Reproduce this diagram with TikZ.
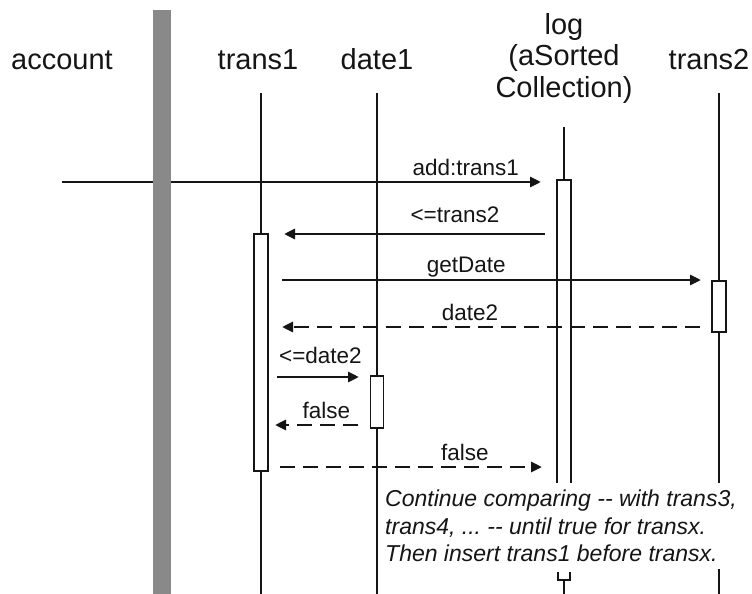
\documentclass[tikz,border=0pt]{standalone}
\usepackage{fontspec}
\setmainfont{Liberation Sans}
\usetikzlibrary{arrows.meta}
\definecolor{barGray}{HTML}{898989}
\definecolor{inkBlack}{HTML}{151515}

\tikzset{
  objname/.style={font=\fontsize{29}{31.5}\selectfont, inner sep=0pt, align=center, text=inkBlack},
  lifeline/.style={draw=inkBlack, line width=2.2pt},
  activation/.style={draw=inkBlack, fill=white, line width=1.9pt, inner sep=0pt, anchor=north},
  call/.style={draw=inkBlack, line width=2.9pt, -{Triangle[length=11pt,width=10pt]}},
  answer/.style={call, dash pattern=on 15pt off 8pt},
  msglabel/.style={font=\fontsize{22.5}{27}\selectfont, inner sep=0pt, anchor=base, yshift=7pt, text=inkBlack},
  remark/.style={font=\fontsize{23}{27.5}\selectfont\itshape\frenchspacing, fill=white, inner xsep=2pt, inner ysep=7pt,
                 align=left, anchor=north west, text=inkBlack}
}

\begin{document}
\begin{tikzpicture}[x=1pt, y=-1pt]
  \useasboundingbox (0,0) rectangle (752,594);

  % objects
  \node[objname, anchor=base] (account) at (62,70) {account};
  \node[objname, anchor=base] (trans1) at (258,70) {trans1};
  \node[objname, anchor=base] (date1) at (377,70) {date1};
  \node[objname, anchor=north] (log) at (564,13) {log\\(aSorted\\Collection)};
  \node[objname, anchor=base] (trans2) at (709,70) {trans2};

  % lifelines
  \coordinate (t1top) at (261,93);   \coordinate (t1end) at (261,594);
  \coordinate (d1top) at (377,93);   \coordinate (d1end) at (377,594);
  \coordinate (t2top) at (719,93);   \coordinate (t2end) at (719,594);
  \coordinate (logtop) at (564,127); \coordinate (logact) at (564,180);
  \coordinate (logfoot) at (564,580); \coordinate (logend) at (564,594);
  \draw[lifeline] (t1top) -- (t1end);
  \draw[lifeline] (d1top) -- (d1end);
  \draw[lifeline] (t2top) -- (t2end);
  \draw[lifeline] (logtop) -- (logact);

  % activations
  \node[activation, minimum width=14pt, minimum height=237pt] (t1box) at (261,233) {};
  \node[activation, minimum width=13pt, minimum height=52pt] (d1box) at (377,375) {};
  \node[activation, minimum width=14pt, minimum height=51pt] (t2box) at (719,280) {};
  \filldraw[activation, fill=white] (557,490) -- (557,180) -- (571,180) -- (571,490);

  % messages
  \coordinate (m1a) at (62,182);  \coordinate (m1b) at (541,182);
  \coordinate (m2a) at (545,234); \coordinate (m2b) at (284,234);
  \coordinate (m3a) at (282,280); \coordinate (m3b) at (701,280);
  \coordinate (m4a) at (700,327); \coordinate (m4b) at (282,327);
  \coordinate (m5a) at (277,377); \coordinate (m5b) at (359,377);
  \coordinate (m6a) at (358,425); \coordinate (m6b) at (275,425);
  \coordinate (m7a) at (280,467); \coordinate (m7b) at (542,467);

  \draw[call] (m1a) -- node[msglabel, pos=.843] (lbadd) {add:trans1} (m1b);
  \draw[call] (m2a) -- node[msglabel, pos=.345, yshift=5pt] (lbcmp) {<=trans2} (m2b);
  \draw[call] (m3a) -- node[msglabel, pos=.44, yshift=1pt] (lbget) {getDate} (m3b);
  \draw[answer] (m4a) -- node[msglabel, pos=.55] (lbdate) {date2} (m4b);
  \draw[call] (m5a) -- node[msglabel, pos=.53, yshift=7pt] (lbcmpd) {<=date2} (m5b);
  \draw[answer] (m6a) -- node[msglabel, pos=.38] (lbfalse) {false} (m6b);
  \draw[answer] (m7a) -- node[msglabel, pos=.706] (lbfalsetoo) {false} (m7b);

  % system boundary
  \node[fill=barGray, minimum width=18pt, minimum height=584pt, inner sep=0pt, anchor=north] (bar) at (162,10) {};

  \node[remark] (note) at (383,483) {Continue comparing -{}- with trans3,\\trans4, ... -{}- until true for transx.\\Then insert trans1 before transx.};

  % end of the log activation
  \draw[lifeline, line width=1.9pt] (558,572) -- (558,580) -- (570,580) -- (570,572);
  \draw[lifeline] (logfoot) -- (logend);
\end{tikzpicture}
\end{document}
